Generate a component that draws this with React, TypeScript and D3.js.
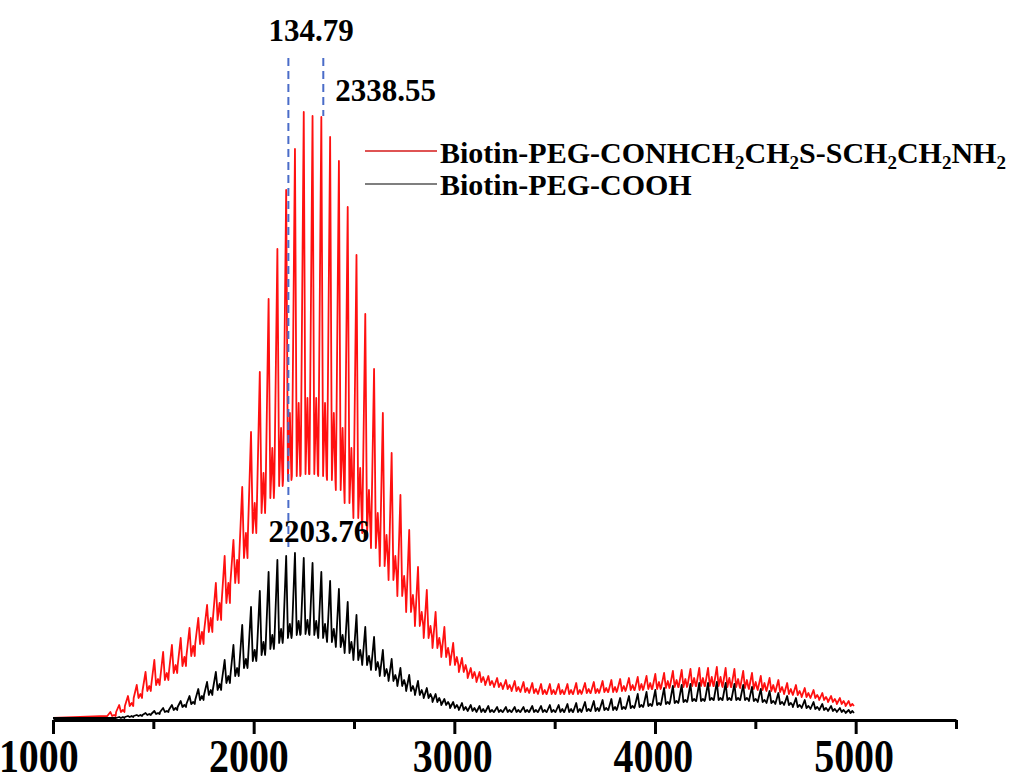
import React, { useEffect, useRef } from 'react';
import * as d3 from 'd3';

// peaks sit on a PEG ladder: first peak (Da) and spacing between neighbours (Da)
const FIRST_PEAK = 1286;
const REPEAT_UNIT = 43.8;

// intensities (a.u.), one value per ladder peak
const redMain = [
  6, 13, 22, 33, 46, 58, 66, 73, 80, 90,
  100, 113, 135, 162, 178, 231, 286, 346, 419, 469,
  528, 569, 606, 602, 601, 581, 557, 511, 463, 404,
  349, 305, 265, 223, 188, 151, 128, 106, 91, 75,
  60, 50, 46, 42, 40, 38, 37, 36, 35, 34,
  34, 34, 34, 35, 35, 36, 37, 38, 39, 40,
  41, 42, 44, 45, 47, 48, 49, 50, 50, 51,
  50, 49, 47, 45, 42, 40, 38, 35, 33, 30,
  28, 25, 22, 20, 17,
];
const redSecond = [
  3, 8, 15, 24, 32, 39, 45, 53, 61, 72,
  86, 100, 115, 135, 158, 185, 215, 245, 270, 290,
  305, 315, 320, 320, 315, 305, 290, 270, 250, 228,
  205, 183, 162, 142, 123, 106, 92, 80, 70, 61,
  53, 46, 41, 37, 35, 33, 31, 30, 29, 28,
  28, 28, 28, 28, 29, 29, 30, 31, 32, 33,
  34, 35, 36, 37, 38, 39, 40, 40, 41, 41,
  40, 39, 38, 36, 35, 33, 31, 29, 27, 25,
  23, 21, 19, 17, 14,
];
const redValley = [
  2, 6, 12, 20, 27, 33, 38, 45, 52, 62,
  74, 86, 98, 115, 135, 160, 185, 205, 220, 232,
  238, 242, 244, 244, 242, 238, 228, 215, 200, 185,
  170, 152, 138, 122, 106, 92, 80, 70, 61, 53,
  46, 40, 36, 33, 31, 29, 27, 26, 25, 24,
  24, 24, 24, 24, 25, 25, 26, 26, 27, 28,
  28, 29, 29, 30, 31, 31, 32, 32, 32, 32,
  31, 31, 30, 29, 28, 27, 26, 24, 23, 21,
  20, 18, 16, 14, 12,
];
const blackMain = [
  0, 1, 2, 3, 5, 7, 10, 13, 17, 22,
  29, 36, 46, 58, 73, 93, 111, 127, 146, 158,
  162, 165, 160, 155, 146, 137, 129, 116, 103, 91,
  81, 68, 59, 50, 43, 37, 30, 24, 19, 16,
  15, 13, 12, 12, 11, 11, 11, 11, 12, 12,
  13, 13, 14, 15, 16, 17, 18, 19, 20, 22,
  24, 26, 28, 30, 32, 33, 34, 35, 35, 36,
  35, 34, 33, 31, 29, 27, 25, 22, 20, 18,
  16, 14, 12, 10, 8,
];
const blackSecond = [
  0, 1, 2, 3, 4, 5, 7, 10, 13, 16,
  22, 28, 34, 42, 50, 59, 68, 76, 83, 89,
  94, 97, 98, 97, 94, 89, 83, 76, 68, 62,
  56, 49, 43, 38, 32, 28, 24, 20, 16, 13,
  11, 10, 9, 8, 8, 8, 8, 8, 8, 8,
  8, 9, 9, 9, 9, 10, 10, 11, 11, 12,
  13, 14, 15, 16, 17, 18, 19, 19, 20, 20,
  20, 20, 20, 19, 18, 17, 16, 15, 13, 12,
  11, 10, 9, 8, 7,
];
const blackValley = [
  0, 0, 1, 2, 3, 4, 6, 8, 11, 14,
  18, 23, 28, 35, 42, 50, 57, 63, 69, 75,
  80, 83, 84, 83, 80, 76, 71, 65, 58, 53,
  48, 42, 37, 32, 27, 23, 20, 16, 13, 10,
  8, 7, 6, 6, 6, 6, 6, 6, 6, 6,
  6, 6, 6, 6, 7, 7, 8, 8, 9, 10,
  11, 12, 13, 14, 15, 16, 17, 17, 18, 18,
  18, 18, 18, 17, 16, 15, 14, 13, 11, 10,
  9, 8, 7, 6, 5,
];

const xTicks = [1000, 2000, 3000, 4000, 5000];
const xMinorTicks = [1500, 2500, 3500, 4500, 5500];

// dashed markers: position (Da) and intensity where the line stops
const markerMass = [2173, 2347];
const markerBottom = [170, 602];
const markerLabels = ['2203.76', '2338.55'];
const gapLabel = '134.79';

const legendParts: [string, boolean][] = [
  ['Biotin-PEG-CONHCH', false], ['2', true], ['CH', false], ['2', true],
  ['S-SCH', false], ['2', true], ['CH', false], ['2', true], ['NH', false], ['2', true],
];
const legendSecond = 'Biotin-PEG-COOH';

const RED = '#ff1010';
const FONT = '"Liberation Serif", "Times New Roman", serif';

export default function App() {
  const ref = useRef<SVGSVGElement>(null);

  useEffect(() => {
    const svg = d3.select(ref.current);
    svg.selectAll('*').remove();

    const x = d3.scaleLinear().domain([1000, 5500]).range([53, 956]);
    const y = d3.scaleLinear().domain([0, 620]).range([718, 98]);

    const spectrum = (main: number[], second: number[], valley: number[]) => {
      const pts: [number, number][] = [[1000, 0]];
      main.forEach((h, k) => {
        const m = FIRST_PEAK + k * REPEAT_UNIT;
        pts.push(
          [m - 0.35 * REPEAT_UNIT, valley[k]],
          [m, h],
          [m + 0.2 * REPEAT_UNIT, valley[k]],
          [m + 0.42 * REPEAT_UNIT, second[k]],
          [m + 0.6 * REPEAT_UNIT, valley[k]],
        );
      });
      return pts;
    };

    const line = d3.line<[number, number]>()
      .x(d => x(d[0]))
      .y(d => y(d[1]));

    svg.append('path')
      .datum(spectrum(redMain, redSecond, redValley))
      .attr('d', line)
      .attr('fill', 'none')
      .attr('stroke', RED)
      .attr('stroke-width', 1.8)
      .attr('stroke-linejoin', 'round');

    svg.append('path')
      .datum(spectrum(blackMain, blackSecond, blackValley))
      .attr('d', line)
      .attr('fill', 'none')
      .attr('stroke', '#000')
      .attr('stroke-width', 1.8)
      .attr('stroke-linejoin', 'round');

    // x axis
    const axis = svg.append('g').attr('transform', 'translate(0,720)');
    axis.call(
      d3.axisBottom(x).tickValues(xTicks).tickSize(14).tickSizeOuter(0).tickFormat(d3.format('d'))
    );
    axis.select('.domain').attr('stroke-width', 3);
    axis.selectAll('.tick line').attr('stroke-width', 3);
    axis.attr('font-family', FONT).attr('font-size', 38).attr('font-weight', 'bold');
    // digits in the picture are drawn taller than wide; leftmost labels sit a little left of their ticks
    axis.selectAll<SVGTextElement, number>('.tick text')
      .attr('y', 43)
      .attr('dy', 0)
      .attr('dx', d => (d === 1000 ? -14 : d === 2000 ? -5 : -2))
      .attr('transform', 'scale(1.05,1.22)')
      .attr('fill', '#000');

    const minor = svg.append('g').attr('transform', 'translate(0,720)');
    minor.call(d3.axisBottom(x).tickValues(xMinorTicks).tickSize(9).tickSizeOuter(0).tickFormat(() => ''));
    minor.select('.domain').remove();
    minor.selectAll('.tick line').attr('stroke-width', 3);

    // dashed markers
    markerMass.forEach((m, i) => {
      svg.append('line')
        .attr('x1', x(m)).attr('x2', x(m))
        .attr('y1', 58).attr('y2', y(markerBottom[i]))
        .attr('stroke', '#4a6cc8')
        .attr('stroke-width', 2)
        .attr('stroke-dasharray', '8,5');
    });

    const txt = svg.append('g')
      .attr('font-family', FONT)
      .attr('font-weight', 'bold')
      .attr('font-size', 31)
      .attr('fill', '#000');
    txt.append('text').attr('x', x(markerMass[0]) - 20).attr('y', 41).text(gapLabel);
    txt.append('text').attr('x', x(markerMass[1]) + 12).attr('y', 101).text(markerLabels[1]);
    txt.append('text').attr('x', x(markerMass[0]) - 20).attr('y', 542).text(markerLabels[0]);

    // legend
    const legend = svg.append('g')
      .attr('font-family', FONT)
      .attr('font-weight', 'bold')
      .attr('font-size', 30)
      .attr('fill', '#000');
    legend.append('line').attr('x1', 365).attr('x2', 437).attr('y1', 151).attr('y2', 151)
      .attr('stroke', '#d41a1a').attr('stroke-width', 1.5);
    legend.append('line').attr('x1', 365).attr('x2', 437).attr('y1', 184).attr('y2', 184)
      .attr('stroke', '#555').attr('stroke-width', 1.5);

    const t1 = legend.append('text').attr('x', 440).attr('y', 163);
    let shift = 0;
    legendParts.forEach(([s, sub]) => {
      const target = sub ? 6 : 0;
      t1.append('tspan')
        .attr('font-size', sub ? 19 : 30)
        .attr('dy', target - shift)
        .text(s);
      shift = target;
    });
    legend.append('text').attr('x', 440).attr('y', 195).text(legendSecond);
  }, []);

  return (
    <svg
      ref={ref}
      width={1009}
      height={783}
      style={{ position: 'absolute', left: 0, top: 0, background: '#fff' }}
    />
  );
}
